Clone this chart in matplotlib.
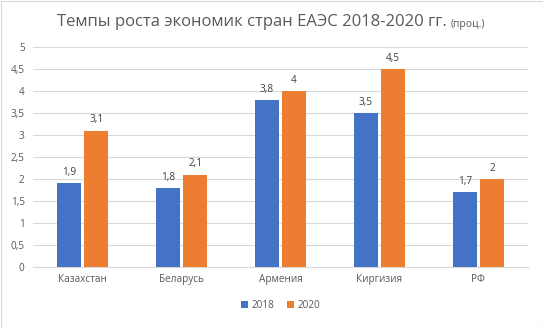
import matplotlib
matplotlib.use("Agg")
import matplotlib.pyplot as plt
import numpy as np

categories = ["Казахстан", "Беларусь", "Армения", "Киргизия", "РФ"]
series_names = ["2018", "2020"]
values_2018 = [1.9, 1.8, 3.8, 3.5, 1.7]
values_2020 = [3.1, 2.1, 4.0, 4.5, 2.0]
yticks = [0, 0.5, 1, 1.5, 2, 2.5, 3, 3.5, 4, 4.5, 5]

def fmt(v):
    return ("%g" % v).replace(".", ",")

plt.rcParams['font.family'] = ['Open Sans', 'DejaVu Sans']
txt = '#595959'
fs = 7.2
fig = plt.figure(figsize=(5.43, 3.28), dpi=100)
ax = fig.add_axes([33/543, 1-267/328, 495/543, 220/328])

x = np.arange(len(categories))
w = 0.235
gap = 0.02
b1 = ax.bar(x - w/2 - gap, values_2018, w, color='#4472c4', label=series_names[0], zorder=3)
b2 = ax.bar(x + w/2 + gap, values_2020, w, color='#ed7d31', label=series_names[1], zorder=3)
for bars, vals in ((b1, values_2018), (b2, values_2020)):
    for r, v in zip(bars, vals):
        ax.text(r.get_x() + r.get_width()/2, v + 0.12, fmt(v), ha='center', va='bottom',
                fontsize=fs, color='#404040')

ax.set_xlim(-0.5, len(categories) - 0.5)
ax.set_ylim(0, 5)
ax.set_yticks(yticks)
ax.set_yticklabels([fmt(t) for t in yticks], fontsize=fs, color=txt)
ax.set_xticks(x)
ax.set_xticklabels(categories, fontsize=fs, color=txt)
ax.yaxis.grid(True, color='#d9d9d9', linewidth=0.8, zorder=0)
ax.tick_params(length=0, pad=6)
ax.tick_params(axis='x', pad=5)
for s in ['top', 'right', 'left']:
    ax.spines[s].set_visible(False)
ax.spines['bottom'].set_color('#d9d9d9')

t1 = fig.text(57/543, 1-22/328, "Темпы роста экономик стран ЕАЭС 2018-2020 гг.", ha='left', va='center',
              fontsize=12.0, color=txt)
fig.canvas.draw()
bb = t1.get_window_extent()
fig.text((bb.x1 + 4)/543, 1-24/328, "(проц.)", ha='left', va='center', fontsize=7.5, color=txt)

ax.legend(loc='center', bbox_to_anchor=(0.5, (267-305)/220), ncol=2, frameon=False,
          fontsize=fs, handlelength=0.7, handleheight=0.7, handletextpad=0.4,
          columnspacing=1.2, labelcolor=txt)

fig.patches.append(matplotlib.patches.Rectangle((0.5/543, 0.5/328), 1-1/543, 1-1/328,
                   transform=fig.transFigure, fill=False, edgecolor='#d9d9d9', linewidth=0.8))
fig.savefig("out.png", dpi=100)
